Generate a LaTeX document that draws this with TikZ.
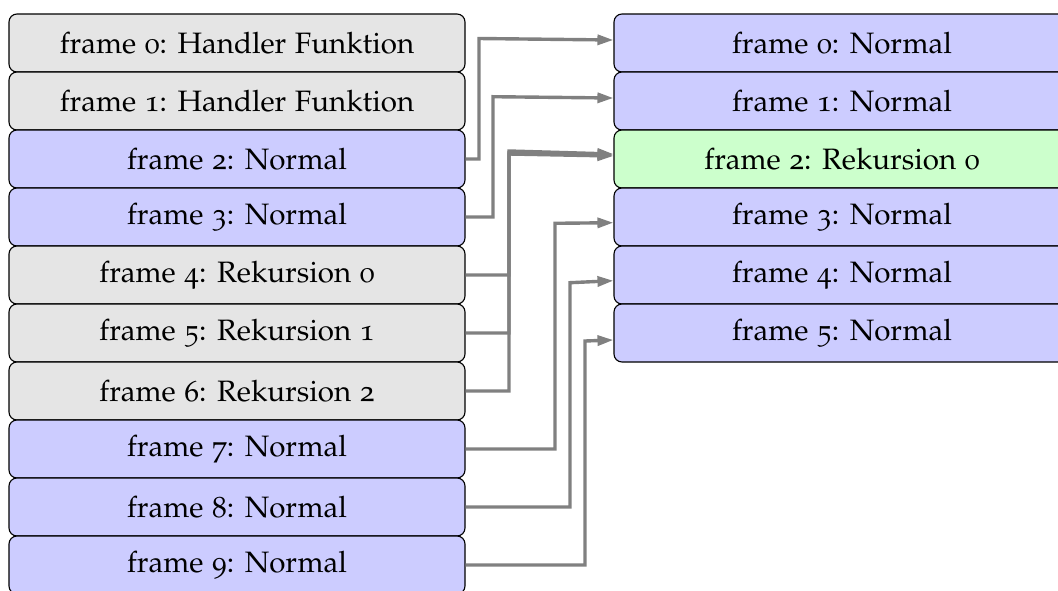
\documentclass[tikz,border=0pt]{standalone}
\usepackage[T1]{fontenc}
\usepackage[osf]{mathpazo}
\usetikzlibrary{arrows.meta}

\tikzset{
  frame/.style={draw=black, line width=1.1pt, rounded corners=8pt,
    minimum width=456pt, minimum height=58pt, inner sep=0pt,
    font=\fontsize{29.5}{34}\selectfont},
  handler/.style={frame, fill=gray!20},
  normal/.style={frame, fill=blue!20},
  recur/.style={frame, fill=green!20},
  conn/.style={draw=gray, line width=3.4pt,
    -{Triangle[length=16pt, width=10pt]}},
}

\begin{document}
\begin{tikzpicture}[x=1pt, y=-1pt]
\useasboundingbox (0,0) rectangle (1058,590);

% left stack
\node[handler] (L0) at (237, 43) {frame 0: Handler Funktion};
\node[handler] (L1) at (237,101) {frame 1: Handler Funktion};
\node[normal]  (L2) at (237,159) {frame 2: Normal};
\node[normal]  (L3) at (237,217) {frame 3: Normal};
\node[handler] (L4) at (237,275) {frame 4: Rekursion 0};
\node[handler] (L5) at (237,333) {frame 5: Rekursion 1};
\node[handler] (L6) at (237,391) {frame 6: Rekursion 2};
\node[normal]  (L7) at (237,449) {frame 7: Normal};
\node[normal]  (L8) at (237,507) {frame 8: Normal};
\node[normal]  (L9) at (237,565) {frame 9: Normal};

% right stack
\node[normal] (R0) at (842, 43) {frame 0: Normal};
\node[normal] (R1) at (842,101) {frame 1: Normal};
\node[recur]  (R2) at (842,159) {frame 2: Rekursion 0};
\node[normal] (R3) at (842,217) {frame 3: Normal};
\node[normal] (R4) at (842,275) {frame 4: Normal};
\node[normal] (R5) at (842,333) {frame 5: Normal};

% bend points of the connectors
\coordinate (b2) at (479, 38.5);
\coordinate (b3) at (493, 96.7);
\coordinate (b4) at (509,151);
\coordinate (b5) at (509,152.5);
\coordinate (b6) at (509,154);
\coordinate (b7) at (555,223.3);
\coordinate (b8) at (570,282.7);
\coordinate (b9) at (585,341);

% kept frames move up
\draw[conn] (L2.east) -| (b2) -- ([yshift=3pt]R0.west);
\draw[conn] (L3.east) -| (b3) -- ([yshift=3pt]R1.west);
% the recursion collapses into one frame
\draw[conn] (L4.east) -| (b4) -- ([yshift=5pt]R2.west);
\draw[conn] (L5.east) -| (b5) -- ([yshift=4pt]R2.west);
\draw[conn] (L6.east) -| (b6) -- ([yshift=3pt]R2.west);
% frames below the recursion
\draw[conn] (L7.east) -| (b7) -- ([yshift=-5.7pt]R3.west);
\draw[conn] (L8.east) -| (b8) -- ([yshift=-5.7pt]R4.west);
\draw[conn] (L9.east) -| (b9) -- ([yshift=-7pt]R5.west);
\end{tikzpicture}
\end{document}
